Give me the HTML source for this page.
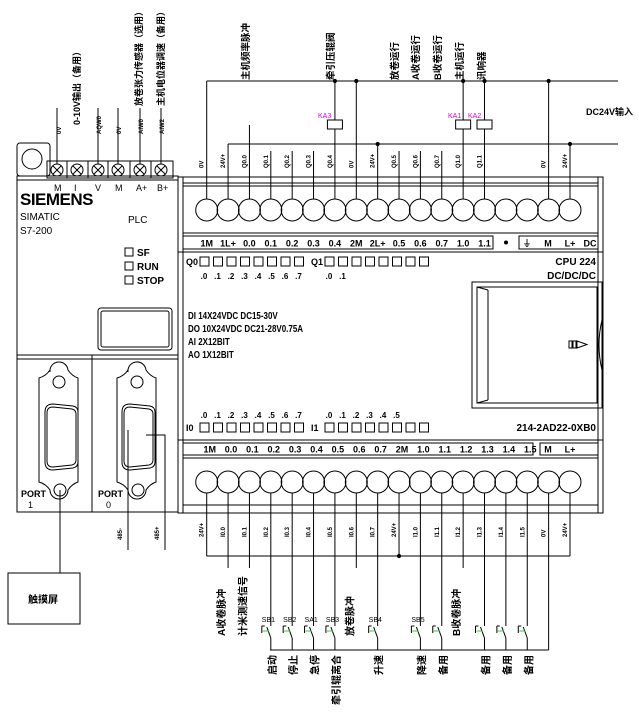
<!DOCTYPE html>
<html><head><meta charset="utf-8">
<style>
html,body{margin:0;padding:0;background:#fff;}
svg{display:block;}
text{font-family:"Liberation Sans","Noto Sans CJK SC",sans-serif;fill:#000;}
.cn{font-family:"Liberation Sans","Noto Sans CJK SC",sans-serif;font-weight:bold;}
</style></head>
<body>
<svg id="s" width="639" height="712" viewBox="0 0 639 712" xmlns="http://www.w3.org/2000/svg" stroke="#000" stroke-width="1" fill="none">
<!-- left analog module -->
<rect x="17" y="143" width="33" height="33" rx="3"/>
<circle cx="32" cy="159" r="10"/>
<rect x="47" y="161" width="126" height="17"/>
<line x1="67" y1="161" x2="67" y2="178"/><line x1="88" y1="161" x2="88" y2="178"/><line x1="108" y1="161" x2="108" y2="178"/><line x1="130" y1="161" x2="130" y2="178"/><line x1="151" y1="161" x2="151" y2="178"/>
<rect x="17" y="176" width="161" height="336"/>
<line x1="17" y1="180" x2="178" y2="180"/>
<line x1="17" y1="355" x2="178" y2="355"/><line x1="17" y1="359" x2="178" y2="359"/>
<line x1="92" y1="355" x2="92" y2="512"/>
<rect x="98" y="308" width="74" height="42" rx="3"/>
<rect x="101" y="311" width="68" height="36" rx="2"/>
<rect x="125" y="248" width="8" height="8"/><rect x="125" y="262" width="8" height="8"/><rect x="125" y="276" width="8" height="8"/>
<!-- ports -->
<path d="M50,372 a9,9 0 0 1 18,-2 l0,0 q4,6 10,8 l0,104 q-6,2 -10,8 a9,9 0 0 1 -18,0 q-4,-6 -11,-8 l0,-104 q7,-2 11,-8z" transform="translate(0,0)"/>
<circle cx="59" cy="382" r="6"/><circle cx="60" cy="490" r="6"/>
<path d="M45,412 q0,-8 8,-8 l20,2 q5,1 5,6 l0,50 q0,5 -5,6 l-20,2 q-8,0 -8,-8z"/>
<path d="M47,413 q0,-6 6,-6 l19,2 q4,1 4,5 l0,46 q0,4 -4,5 l-19,2 q-6,0 -6,-6z"/>
<path d="M128,372 a9,9 0 0 1 18,-2 q4,6 10,8 l0,104 q-6,2 -10,8 a9,9 0 0 1 -18,0 q-4,-6 -11,-8 l0,-104 q7,-2 11,-8z"/>
<circle cx="137" cy="382" r="6"/><circle cx="138" cy="490" r="6"/>
<path d="M122,412 q0,-8 8,-8 l20,2 q5,1 5,6 l0,50 q0,5 -5,6 l-20,2 q-8,0 -8,-8z"/>
<path d="M124,413 q0,-6 6,-6 l19,2 q4,1 4,5 l0,46 q0,4 -4,5 l-19,2 q-6,0 -6,-6z"/>
<line x1="60" y1="490" x2="60" y2="573"/>
<rect x="8" y="573" width="72" height="51"/>
<line x1="128" y1="430" x2="128" y2="550"/>
<polyline points="146,435 165,435 165,550"/>
<!-- main body -->
<rect x="178" y="177" width="425" height="336"/>
<line x1="183" y1="177" x2="183" y2="513"/>
<line x1="183" y1="183" x2="598" y2="183"/><line x1="183" y1="186" x2="598" y2="186"/>
<line x1="183" y1="233" x2="598" y2="233"/>
<line x1="598" y1="177" x2="598" y2="513"/>
<rect x="183" y="236" width="310" height="13"/>
<rect x="519" y="236" width="79" height="13"/>
<line x1="178" y1="252" x2="603" y2="252"/>
<line x1="178" y1="440" x2="603" y2="440"/>
<rect x="183" y="443" width="350" height="12"/>
<rect x="540" y="443" width="58" height="12"/>
<line x1="183" y1="458" x2="598" y2="458"/>
<line x1="183" y1="505" x2="598" y2="505"/>
<rect x="472" y="282" width="130" height="126"/>
<rect x="477" y="287" width="120" height="116"/>
<line x1="488" y1="290" x2="488" y2="400"/>
<line x1="477" y1="287" x2="488" y2="290"/><line x1="477" y1="403" x2="488" y2="400"/>
<path d="M602,320 q-6,25 0,50"/>
<rect x="569" y="341" width="3" height="7"/><rect x="573" y="341" width="3" height="7"/><path d="M577,341 l10,3.5 l-10,3.5z"/>
<!-- buses -->
<line x1="206.7" y1="81" x2="618" y2="81"/>
<line x1="228" y1="144" x2="618" y2="144"/>
<line x1="206.7" y1="556" x2="570" y2="556"/>
<line x1="270" y1="650" x2="548.6" y2="650"/>
<g id="dyn"></g>
<g stroke="none">
<text x="20" y="205" font-size="17" font-weight="bold" style="letter-spacing:-0.5px">SIEMENS</text>
<text x="20" y="220" font-size="10">SIMATIC</text>
<text x="20" y="234" font-size="10">S7-200</text>
<text x="128" y="223" font-size="10">PLC</text>
<text x="137" y="256" font-size="10" font-weight="bold">SF</text>
<text x="137" y="270" font-size="10" font-weight="bold">RUN</text>
<text x="137" y="284" font-size="10" font-weight="bold">STOP</text>
<text x="54" y="191" font-size="9">M</text><text x="74" y="191" font-size="9">I</text><text x="95" y="191" font-size="9">V</text><text x="115" y="191" font-size="9">M</text><text x="136" y="191" font-size="9">A+</text><text x="157" y="191" font-size="9">B+</text>
<text x="21" y="497" font-size="9" font-weight="bold">PORT</text><text x="28" y="508" font-size="9">1</text>
<text x="98" y="497" font-size="9" font-weight="bold">PORT</text><text x="106" y="508" font-size="9">0</text>
<text x="28" y="603" font-size="10" class="cn">触摸屏</text>
<text x="596" y="265" font-size="10" text-anchor="end" font-family="Liberation Mono" font-weight="bold">CPU 224</text>
<text x="596" y="279" font-size="10" text-anchor="end" font-family="Liberation Mono" font-weight="bold">DC/DC/DC</text>
<text x="596" y="431" font-size="10" text-anchor="end" font-family="Liberation Mono" font-weight="bold">214-2AD22-0XB0</text>
<g font-family="Liberation Serif" font-size="10" font-weight="bold" transform="translate(188,0) scale(0.8,1)">
<text x="0" y="319" font-family="Liberation Serif">DI 14X24VDC DC15-30V</text>
<text x="0" y="332" font-family="Liberation Serif">DO 10X24VDC DC21-28V0.75A</text>
<text x="0" y="345" font-family="Liberation Serif">AI 2X12BIT</text>
<text x="0" y="358" font-family="Liberation Serif">AO 1X12BIT</text>
</g>
<text x="586" y="115" font-size="9" class="cn">DC24V输入</text>
<text transform="translate(80,125) rotate(-90)" font-size="9" class="cn">0-10V输出（备用）</text>
<text transform="translate(142,106) rotate(-90)" font-size="9" class="cn">放卷张力传感器（选用）</text>
<text transform="translate(164,106) rotate(-90)" font-size="9" class="cn">主机电位器调速（备用）</text>
<text transform="translate(249,80) rotate(-90)" font-size="9.5" class="cn">主机频率脉冲</text>
<text transform="translate(334,80) rotate(-90)" font-size="9.5" class="cn">牵引压辊阀</text>
<text transform="translate(398,80) rotate(-90)" font-size="9.5" class="cn">放卷运行</text>
<text transform="translate(419,80) rotate(-90)" font-size="9.5" class="cn">A收卷运行</text>
<text transform="translate(441,80) rotate(-90)" font-size="9.5" class="cn">B收卷运行</text>
<text transform="translate(463,80) rotate(-90)" font-size="9.5" class="cn">主机运行</text>
<text transform="translate(485,80) rotate(-90)" font-size="9.5" class="cn">讯响器</text>
<text x="318" y="118" font-size="7" fill="#e000e0" style="fill:#e000e0">KA3</text>
<text x="448" y="118" font-size="7" style="fill:#e000e0">KA1</text>
<text x="468" y="118" font-size="7" style="fill:#e000e0">KA2</text>
<text transform="translate(61,134) rotate(-90)" font-size="6" font-weight="bold">0V</text>
<text transform="translate(101,134) rotate(-90)" font-size="6" font-weight="bold">AQW0</text>
<text transform="translate(121,134) rotate(-90)" font-size="6" font-weight="bold">0V</text>
<text transform="translate(143,134) rotate(-90)" font-size="6" font-weight="bold">AIW0</text>
<text transform="translate(164,134) rotate(-90)" font-size="6" font-weight="bold">AIW2</text>
<text transform="translate(122,540) rotate(-90)" font-size="6" font-weight="bold">485-</text>
<text transform="translate(159,540) rotate(-90)" font-size="6" font-weight="bold">485+</text>
<text x="186" y="265" font-size="9" font-family="Liberation Mono" font-weight="bold">Q0</text>
<text x="311" y="265" font-size="9" font-family="Liberation Mono" font-weight="bold">Q1</text>
<text x="186" y="431" font-size="9" font-family="Liberation Mono" font-weight="bold">I0</text>
<text x="311" y="431" font-size="9" font-family="Liberation Mono" font-weight="bold">I1</text>
</g>
</svg>
<script>
(function(){
var NS="http://www.w3.org/2000/svg",g=document.getElementById("dyn");
function el(t,a,txt){var e=document.createElementNS(NS,t);for(var k in a)e.setAttribute(k,a[k]);if(txt!=null)e.textContent=txt;g.appendChild(e);return e;}
function X(i){return 206.7+21.37*i;}
function ln(x1,y1,x2,y2,c){el("line",{x1:x1,y1:y1,x2:x2,y2:y2,stroke:c||"#000"});}
// left terminals
[57,77,98,118,140,161].forEach(function(x){el("circle",{cx:x,cy:170,r:6});ln(x-4,166,x+4,174);ln(x-4,174,x+4,166);});
[57,98,118,140,161].forEach(function(x){ln(x,108,x,164);});
for(var i=0;i<18;i++){var x=X(i);el("circle",{cx:x,cy:210,r:11});el("circle",{cx:x,cy:482,r:11});}
// top connections
var top={0:81,1:144,2:125,3:151,4:151,5:151,6:81,7:81,8:144,9:151,10:151,11:151,12:81,13:81,16:81,17:144};
for(var k in top){ln(X(+k),top[k],X(+k),199);}
[6,7,12,13,16].forEach(function(i){el("circle",{cx:X(i),cy:81,r:1.6,fill:"#000"});});
[8,17].forEach(function(i){el("circle",{cx:X(i),cy:144,r:1.6,fill:"#000"});});
[[6,"#fff"],[12],[13]].forEach(function(a){var x=X(a[0]);el("rect",{x:x-7.5,y:120,width:15,height:9,fill:"#fff"});});
var tl=["0V","24V+","Q0.0","Q0.1","Q0.2","Q0.3","Q0.4","0V","24V+","Q0.5","Q0.6","Q0.7","Q1.0","Q1.1","","","0V","24V+"];
tl.forEach(function(t,i){if(t)el("text",{transform:"translate("+(X(i)-3)+",168) rotate(-90)","font-size":6,"font-weight":"bold",stroke:"none"},t);});
var ts=["1M","1L+","0.0","0.1","0.2","0.3","0.4","2M","2L+","0.5","0.6","0.7","1.0","1.1"];
ts.forEach(function(t,i){el("text",{x:X(i),y:246.5,"font-size":9,"font-weight":"bold","text-anchor":"middle",stroke:"none"},t);});
el("circle",{cx:506,cy:242.5,r:2,fill:"#000",stroke:"none"});
[["⏚",527],["M",548],["L+",570],["DC",590]].forEach(function(a){el("text",{x:a[1],y:246.5,"font-size":9,"font-weight":"bold","text-anchor":"middle",stroke:"none"},a[0]);});
// LED squares
for(var j=0;j<8;j++){el("rect",{x:200+j*13.5,y:257,width:9,height:9});el("text",{x:204+j*13.5,y:279,"font-size":8,"font-weight":"bold","text-anchor":"middle",stroke:"none"},"."+j);}
for(var j=0;j<8;j++){el("rect",{x:325+j*13.5,y:257,width:9,height:9});if(j<2)el("text",{x:329+j*13.5,y:279,"font-size":8,"font-weight":"bold","text-anchor":"middle",stroke:"none"},"."+j);}
for(var j=0;j<8;j++){el("rect",{x:200+j*13.5,y:423,width:9,height:9});el("text",{x:204+j*13.5,y:418,"font-size":8,"font-weight":"bold","text-anchor":"middle",stroke:"none"},"."+j);}
for(var j=0;j<8;j++){el("rect",{x:325+j*13.5,y:423,width:9,height:9});if(j<6)el("text",{x:329+j*13.5,y:418,"font-size":8,"font-weight":"bold","text-anchor":"middle",stroke:"none"},"."+j);}
var bs=["1M","0.0","0.1","0.2","0.3","0.4","0.5","0.6","0.7","2M","1.0","1.1","1.2","1.3","1.4","1.5"];
bs.forEach(function(t,i){el("text",{x:X(i)+3,y:452.5,"font-size":9,"font-weight":"bold","text-anchor":"middle",stroke:"none"},t);});
el("text",{x:548,y:452.5,"font-size":9,"font-weight":"bold","text-anchor":"middle",stroke:"none"},"M");
el("text",{x:570,y:452.5,"font-size":9,"font-weight":"bold","text-anchor":"middle",stroke:"none"},"L+");
var bl=["24V+","I0.0","I0.1","I0.2","I0.3","I0.4","I0.5","I0.6","I0.7","24V+","I1.0","I1.1","I1.2","I1.3","I1.4","I1.5","0V","24V+"];
bl.forEach(function(t,i){el("text",{transform:"translate("+(X(i)-3)+",537) rotate(-90)","font-size":6,"font-weight":"bold",stroke:"none"},t);});
// bottom connections
var sw={3:"SB1",4:"SB2",5:"SA1",6:"SB3",8:"SB4",10:"SB5",11:"",13:"",14:"",15:""};
for(var i=0;i<18;i++){var x=X(i);
 if(i==0||i==9||i==17)ln(x,493,x,556);
 else if(i==1||i==2||i==7||i==12)ln(x,493,x,568);
 else if(i==16)ln(x,493,x,650);
 else if(i in sw){ln(x,493,x,626);ln(x-4,627,x,638);ln(x,638,x,650);ln(x-9,626,x-9,633);ln(x-9,626,x-6,626);ln(x-8,631,x-2,631,"#33cc33");
  if(sw[i])el("text",{x:x-9,y:622,"font-size":7,stroke:"none",fill:"#e000e0"},sw[i]);}
}
el("circle",{cx:X(9),cy:556,r:1.6,fill:"#000"});
[[3,"启动"],[4,"停止"],[5,"急停"],[6,"牵引辊离合"],[8,"升速"],[10,"降速"],[11,"备用"],[13,"备用"],[14,"备用"],[15,"备用"]].forEach(function(a){
 el("text",{transform:"translate("+(X(a[0])+5)+",655) rotate(-90)","font-size":10,"text-anchor":"end","class":"cn",stroke:"none"},a[1]);});
[[1,"A收卷脉冲",-3],[2,"计米测速信号",-3],[7,"放卷脉冲",-3],[12,"B收卷脉冲",-3]].forEach(function(a){
 el("text",{transform:"translate("+(X(a[0])+a[2])+",636) rotate(-90)","font-size":10,"class":"cn",stroke:"none"},a[1]);});
})();
</script>
</body></html>
